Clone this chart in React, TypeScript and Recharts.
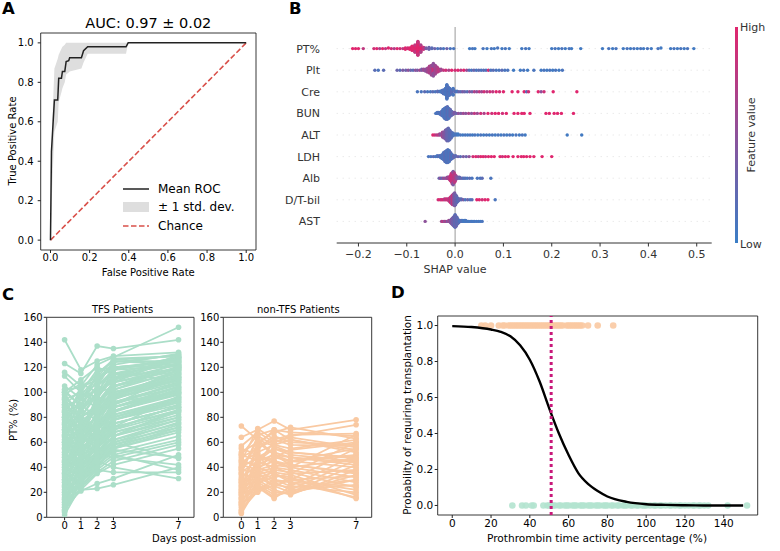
import React from 'react'
import {
  ComposedChart, Line, Area, Scatter, XAxis, YAxis, ReferenceLine, ReferenceArea
} from 'recharts'

const W = 780
const H = 551
const FONT = '"DejaVu Sans", sans-serif'

// ---------- A: ROC ----------
const rocFpr = [0, 0.005, 0.02, 0.037, 0.042, 0.056, 0.061, 0.073, 0.08, 0.093, 0.098, 0.158, 0.169, 0.19, 0.386, 0.397, 1]
const rocTpr = [0, 0.45, 0.71, 0.71, 0.82, 0.82, 0.855, 0.855, 0.905, 0.91, 0.925, 0.925, 0.96, 0.98, 0.98, 1, 1]
const bandFpr = [0, 0.01, 0.02, 0.037, 0.042, 0.056, 0.061, 0.073, 0.08, 0.093, 0.098, 0.158, 0.169, 0.19, 0.386, 0.397, 1]
const bandLow = [0, 0.3, 0.55, 0.6, 0.7, 0.75, 0.77, 0.8, 0.84, 0.85, 0.855, 0.87, 0.9, 0.945, 0.945, 1, 1]
const bandHigh = [0, 0.62, 0.87, 0.92, 0.94, 0.97, 0.98, 0.99, 1, 1, 1, 1, 1, 1, 1, 1, 1]
const chanceX = [0, 1]
const rateTicks = [0, 0.2, 0.4, 0.6, 0.8, 1]

// ---------- B: SHAP beeswarm ----------
// [shap value, feature value (0 low .. 1 high), count]
type Bee = [number, number, number?]
const featureNames = ['PT%', 'Plt', 'Cre', 'BUN', 'ALT', 'LDH', 'Alb', 'D/T-bil', 'AST']
const ptShap: Bee[] = [
  [-0.212, 1], [-0.206, 1], [-0.2, 1], [-0.19, 0.8],
  [-0.168, 0.9], [-0.162, 1], [-0.156, 0.7], [-0.15, 1], [-0.144, 0.8], [-0.138, 1], [-0.132, 0.9], [-0.126, 0.7],
  [-0.12, 1], [-0.114, 0.9], [-0.108, 0.8], [-0.103, 1, 2], [-0.098, 0.9, 2], [-0.094, 1, 3],
  [-0.089, 1, 5], [-0.083, 1, 10], [-0.083, 0.8, 3], [-0.077, 1, 18], [-0.077, 0.85, 6], [-0.071, 1, 10], [-0.071, 0.7, 3], [-0.065, 0.8, 4],
  [-0.06, 0.4, 2], [-0.054, 0.3, 2], [-0.048, 0.2, 2], [-0.042, 0.3], [-0.036, 0.1], [-0.03, 0.2], [-0.024, 0.1], [-0.017, 0.3], [-0.01, 0.1], [-0.003, 0.1],
  [0.03, 0.05], [0.036, 0.1], [0.041, 0.05], [0.058, 0.1], [0.066, 0.05], [0.075, 0.1], [0.081, 0.05], [0.088, 0.1], [0.097, 0.05], [0.104, 0.1], [0.112, 0.05],
  [0.138, 0.05], [0.146, 0.1], [0.153, 0.05], [0.2, 0.05], [0.207, 0.1], [0.214, 0.05], [0.221, 0.1], [0.228, 0.05], [0.236, 0.1], [0.241, 0.05], [0.26, 0.05],
  [0.305, 0.05], [0.318, 0.1], [0.326, 0.05], [0.333, 0.1], [0.348, 0.05], [0.356, 0.1], [0.363, 0.05], [0.37, 0.1], [0.377, 0.05], [0.384, 0.1], [0.39, 0.05],
  [0.398, 0.1], [0.406, 0.05], [0.42, 0.1], [0.426, 0.05], [0.446, 0.05], [0.453, 0.1], [0.46, 0.05], [0.467, 0.1], [0.474, 0.05], [0.481, 0.1], [0.494, 0.05],
]
const pltShap: Bee[] = [
  [-0.166, 0.2], [-0.159, 0.1], [-0.148, 0.2], [-0.12, 0.3], [-0.114, 0.2], [-0.108, 0.4], [-0.102, 0.3], [-0.097, 0.5], [-0.092, 0.3],
  [-0.087, 0.2], [-0.082, 0.5], [-0.078, 0.4], [-0.073, 0.6], [-0.069, 0.4, 2], [-0.065, 0.6, 2], [-0.061, 0.5, 3],
  [-0.057, 0.6, 5], [-0.053, 0.7, 8], [-0.049, 0.6, 11], [-0.045, 0.9, 6], [-0.045, 0.5, 8], [-0.041, 0.6, 10], [-0.037, 0.7, 6], [-0.033, 0.8, 3], [-0.029, 0.6, 2],
  [-0.024, 0.8], [-0.019, 0.9], [-0.013, 0.7], [-0.007, 1], [0, 0.9], [0.006, 1], [0.012, 0.8], [0.018, 1], [0.024, 0.6], [0.029, 0.2], [0.034, 0.1],
  [0.039, 0.3], [0.044, 0.1], [0.049, 0.2], [0.054, 0.1], [0.059, 0.2], [0.064, 0.1], [0.069, 0.9], [0.074, 0.1], [0.079, 0.2], [0.085, 0.1], [0.091, 0.1],
  [0.097, 0.2], [0.103, 0.1], [0.109, 0.1], [0.121, 0.05], [0.135, 0.05], [0.142, 0.1], [0.15, 0.05], [0.163, 0.1], [0.178, 0.05], [0.184, 0.1], [0.19, 0.05],
  [0.196, 0.1], [0.202, 0.05], [0.208, 0.1], [0.215, 0.05], [0.222, 0.1],
]
const creShap: Bee[] = [
  [-0.078, 0.1], [-0.07, 0.1], [-0.063, 0.2], [-0.057, 0.1], [-0.051, 0.1], [-0.046, 0.2], [-0.041, 0.1], [-0.036, 0.2, 2], [-0.031, 0.1, 2],
  [-0.027, 0.1, 4], [-0.024, 0.15, 7], [-0.02, 0.1, 10], [-0.017, 0.1, 13], [-0.014, 0.15, 14], [-0.011, 0.1, 11], [-0.007, 0.2, 7], [-0.004, 0.1, 4],
  [0, 0.2, 2], [0.004, 0.1, 2], [0.008, 0.3], [0.012, 0.2], [0.016, 0.4], [0.02, 0.3], [0.025, 0.2], [0.03, 0.5], [0.035, 0.3], [0.04, 0.7], [0.045, 0.5],
  [0.05, 0.8], [0.055, 0.6], [0.06, 0.9], [0.066, 0.7], [0.072, 0.9], [0.078, 0.8], [0.085, 1], [0.092, 0.9], [0.1, 1], [0.118, 1], [0.13, 1], [0.143, 1],
  [0.148, 0.2], [0.152, 0.9], [0.172, 1], [0.178, 0.5], [0.184, 0.9], [0.203, 1], [0.252, 1],
]
const bunShap: Bee[] = [
  [-0.04, 0.1], [-0.037, 0.1, 2], [-0.034, 0.15, 2], [-0.031, 0.1, 3], [-0.028, 0.2, 5], [-0.025, 0.1, 8], [-0.022, 0.15, 11], [-0.019, 0.1, 13],
  [-0.016, 0.2, 14], [-0.013, 0.1, 11], [-0.01, 0.25, 8], [-0.007, 0.2, 5], [-0.004, 0.3, 3], [-0.001, 0.4, 2],
  [0.003, 0.3], [0.007, 0.5], [0.012, 0.4], [0.017, 0.6], [0.022, 0.5], [0.028, 0.7], [0.034, 0.5], [0.04, 0.8], [0.046, 0.6], [0.053, 0.9], [0.06, 0.7],
  [0.068, 1], [0.076, 0.9], [0.083, 1], [0.09, 1], [0.098, 0.9], [0.106, 1], [0.122, 1], [0.13, 1], [0.138, 1], [0.143, 1], [0.155, 1], [0.188, 1],
  [0.195, 1], [0.205, 1], [0.212, 1], [0.22, 1], [0.245, 1],
]
const altShap: Bee[] = [
  [-0.046, 1], [-0.042, 0.9], [-0.038, 0.7], [-0.035, 0.8], [-0.032, 0.6, 2], [-0.029, 0.5, 2],
  [-0.026, 0.6, 4], [-0.023, 0.45, 7], [-0.02, 0.4, 10], [-0.017, 0.3, 13], [-0.014, 0.25, 14], [-0.011, 0.2, 11], [-0.008, 0.2, 7], [-0.005, 0.15, 4], [-0.002, 0.1, 2],
  [0.002, 0.1, 2], [0.006, 0.05, 2], [0.011, 0.1], [0.016, 0.05], [0.021, 0.1], [0.026, 0.05], [0.031, 0.1], [0.036, 0.05], [0.041, 0.1], [0.047, 0.05],
  [0.053, 0.1], [0.059, 0.05], [0.065, 0.1], [0.071, 0.05], [0.077, 0.1], [0.083, 0.05], [0.089, 0.1], [0.095, 0.05], [0.101, 0.1], [0.107, 0.05],
  [0.113, 0.1], [0.119, 0.05], [0.126, 0.1], [0.133, 0.05], [0.139, 0.1], [0.145, 0.05], [0.232, 0.05], [0.262, 0.05],
]
const ldhShap: Bee[] = [
  [-0.055, 0.1], [-0.05, 0.1], [-0.045, 0.2], [-0.041, 0.1], [-0.037, 0.1, 2], [-0.033, 0.2, 2],
  [-0.03, 0.1, 3], [-0.027, 0.15, 5], [-0.024, 0.1, 8], [-0.021, 0.2, 11], [-0.018, 0.1, 13], [-0.015, 0.15, 14], [-0.012, 0.1, 12], [-0.009, 0.2, 8],
  [-0.006, 0.1, 5], [-0.003, 0.25, 3],
  [0.001, 0.2, 2], [0.006, 0.3], [0.011, 0.2], [0.017, 0.4], [0.023, 0.3], [0.029, 0.5], [0.037, 0.9], [0.043, 1], [0.048, 0.8], [0.053, 1], [0.058, 1],
  [0.063, 0.9], [0.069, 1], [0.075, 1], [0.081, 1], [0.093, 1], [0.098, 0.9], [0.104, 1], [0.11, 1], [0.12, 1], [0.13, 1], [0.137, 1], [0.142, 1],
  [0.148, 1], [0.155, 1], [0.163, 1], [0.18, 1], [0.2, 1],
]
const albShap: Bee[] = [
  [-0.033, 0.3], [-0.03, 0.5], [-0.027, 0.2], [-0.024, 0.6], [-0.021, 0.4], [-0.018, 0.7], [-0.016, 0.5, 2], [-0.014, 0.6, 2],
  [-0.012, 0.7, 3], [-0.01, 0.8, 5], [-0.008, 0.9, 8], [-0.006, 0.8, 11], [-0.004, 0.9, 8], [-0.004, 0.4, 5], [-0.002, 0.7, 10], [0, 0.8, 7],
  [0.002, 0.6, 4], [0.004, 0.5, 2],
  [0.006, 0.4, 2], [0.009, 0.3, 2], [0.012, 0.2], [0.015, 0.3], [0.018, 0.1], [0.021, 0.2], [0.025, 0.1], [0.03, 0.2], [0.035, 0.1], [0.046, 0.1],
  [0.052, 0.1], [0.056, 0.2], [0.074, 0.1],
]
const bilShap: Bee[] = [
  [-0.035, 0.9], [-0.031, 1], [-0.028, 0.8], [-0.025, 1], [-0.022, 0.7, 2], [-0.019, 0.9, 2], [-0.016, 0.8, 2],
  [-0.013, 0.9, 3], [-0.011, 0.7, 5], [-0.009, 0.9, 7], [-0.007, 0.6, 9], [-0.005, 0.8, 11], [-0.003, 0.5, 12], [-0.001, 0.4, 14], [0.001, 0.3, 11],
  [0.003, 0.3, 8], [0.005, 0.2, 5], [0.007, 0.2, 3],
  [0.01, 0.3, 2], [0.013, 0.2, 2], [0.017, 0.4], [0.021, 0.1], [0.026, 0.3], [0.031, 0.1], [0.035, 0.2], [0.045, 1], [0.05, 1], [0.056, 0.9],
  [0.062, 1], [0.068, 1], [0.083, 0.1],
]
const astShap: Bee[] = [
  [-0.062, 0.5], [-0.028, 0.6], [-0.025, 0.8], [-0.022, 0.5], [-0.019, 0.7], [-0.016, 0.4], [-0.013, 0.6, 2],
  [-0.01, 0.5, 3], [-0.008, 0.4, 5], [-0.006, 0.45, 7], [-0.004, 0.3, 9], [-0.002, 0.35, 11], [0, 0.2, 14], [0.002, 0.3, 11], [0.004, 0.2, 8],
  [0.006, 0.25, 5], [0.008, 0.2, 3],
  [0.01, 0.1, 2], [0.013, 0.15, 2], [0.016, 0.1, 2], [0.019, 0.05, 2], [0.022, 0.1, 2], [0.025, 0.05], [0.028, 0.1], [0.031, 0.05], [0.034, 0.1],
  [0.037, 0.05], [0.04, 0.1], [0.044, 0.05], [0.048, 0.1], [0.052, 0.05], [0.056, 0.1],
]
const shapByFeature = [ptShap, pltShap, creShap, bunShap, altShap, ldhShap, albShap, bilShap, astShap]
const shapTicks = [-0.2, -0.1, 0, 0.1, 0.2, 0.3, 0.4, 0.5]

// ---------- C: PT% trajectories (days 0, 1, 2, 3, 7) ----------
const days = [0, 1, 2, 3, 7]
const tfsPT = [
  [142, 118, 125, 129, 132], [123, 115, 137, 135, 142], [116, 105, 122, 128, 152], [113, 100, 118, 120, 125], [105, 95, 112, 118, 128],
  [102, 104, 110, 124, 130], [100, 90, 105, 115, 122], [98, 107, 100, 112, 118], [96, 85, 98, 110, 126], [94, 100, 92, 105, 115],
  [92, 88, 95, 118, 121], [90, 80, 88, 100, 112], [88, 95, 102, 108, 128], [86, 75, 85, 95, 108], [84, 90, 96, 112, 119],
  [82, 70, 80, 92, 104], [80, 86, 100, 104, 124], [78, 68, 75, 88, 100], [76, 80, 90, 98, 116], [74, 62, 72, 85, 98],
  [72, 78, 84, 95, 110], [70, 58, 70, 82, 96], [68, 74, 88, 100, 114], [66, 55, 65, 78, 92], [64, 70, 80, 92, 106],
  [62, 52, 62, 75, 88], [60, 66, 76, 88, 102], [58, 48, 60, 72, 85], [56, 62, 74, 85, 99], [54, 45, 55, 68, 80],
  [52, 58, 70, 82, 95], [50, 42, 52, 65, 78], [48, 55, 66, 80, 94], [46, 40, 50, 62, 75], [44, 52, 62, 78, 90],
  [42, 38, 48, 60, 72], [40, 48, 60, 75, 88], [38, 35, 45, 58, 70], [36, 45, 58, 72, 86], [34, 33, 44, 55, 68],
  [32, 42, 55, 70, 84], [30, 30, 42, 52, 65], [28, 40, 52, 68, 82], [26, 28, 40, 50, 62], [24, 38, 50, 65, 80],
  [22, 25, 38, 48, 60], [20, 36, 48, 62, 78], [18, 24, 36, 45, 58], [16, 34, 46, 60, 76], [14, 22, 35, 42, 55],
  [12, 32, 45, 58, 74], [10, 21, 27, 31, 50], [8, 30, 44, 56, 72], [6, 22, 23, 26, 40], [5, 28, 42, 54, 48],
  [4, 35, 38, 36, 36], [60, 50, 45, 40, 31], [70, 65, 55, 50, 38], [55, 60, 50, 48, 42], [80, 72, 68, 60, 47],
  [45, 55, 85, 110, 130], [35, 60, 100, 120, 125], [25, 45, 80, 105, 120], [100, 110, 120, 115, 110], [90, 102, 115, 125, 122],
  [65, 85, 105, 118, 128], [75, 95, 108, 122, 131], [50, 70, 95, 112, 127], [40, 58, 78, 98, 112], [85, 98, 112, 127, 129],
  [15, 40, 62, 85, 102], [30, 50, 70, 90, 108],
  [95, 60, 85, 100, 110], [20, 60, 75, 95, 118], [85, 50, 70, 88, 105], [10, 45, 68, 90, 115], [100, 75, 90, 105, 120],
  [60, 90, 110, 120, 124], [30, 70, 95, 115, 126], [5, 50, 72, 92, 100], [70, 40, 58, 80, 96], [90, 60, 78, 96, 118],
  [45, 80, 98, 110, 122], [12, 55, 80, 100, 112], [65, 95, 88, 105, 119], [35, 25, 50, 70, 90], [80, 55, 65, 85, 103],
  [25, 65, 90, 108, 117], [55, 85, 78, 95, 111], [8, 40, 60, 80, 93], [98, 80, 100, 118, 127], [42, 68, 92, 102, 121],
  [18, 50, 55, 75, 88], [78, 100, 96, 114, 123], [62, 38, 62, 84, 101], [28, 58, 85, 98, 109], [88, 65, 82, 92, 107],
  [48, 30, 55, 72, 97], [102, 88, 115, 126, 129], [33, 75, 70, 88, 104], [58, 42, 68, 94, 113], [6, 30, 50, 65, 86],
  [74, 105, 112, 120, 121], [52, 85, 105, 125, 125], [22, 48, 70, 85, 99], [94, 72, 60, 78, 92], [38, 62, 75, 65, 85],
  [66, 48, 82, 102, 117], [14, 38, 58, 78, 94], [84, 62, 92, 108, 120], [44, 90, 80, 96, 114], [2, 25, 40, 55, 70],
]
const nonTfsPT = [
  [73, 62, 50, 45, 55], [64, 70, 77, 70, 78], [57, 68, 60, 65, 74], [55, 50, 45, 40, 66], [52, 60, 68, 72, 63],
  [50, 45, 40, 35, 60], [48, 55, 62, 58, 57], [46, 40, 35, 30, 55], [44, 52, 58, 62, 52], [42, 38, 30, 25, 50],
  [40, 48, 55, 52, 48], [38, 35, 28, 22, 46], [36, 45, 50, 48, 44], [34, 32, 25, 20, 42], [32, 42, 48, 45, 40],
  [30, 30, 22, 18, 38], [28, 40, 45, 42, 36], [26, 28, 20, 19, 34], [24, 38, 42, 40, 32], [22, 26, 18, 20, 30],
  [20, 36, 40, 38, 28], [18, 25, 16, 22, 26], [16, 34, 38, 36, 24], [14, 24, 15, 25, 20], [12, 32, 36, 34, 18],
  [10, 22, 30, 28, 16], [8, 30, 34, 32, 15], [6, 21, 28, 30, 22], [4, 28, 32, 35, 38], [3, 25, 40, 45, 50],
  [25, 55, 65, 60, 58], [35, 65, 58, 55, 62], [45, 71, 62, 66, 67], [15, 45, 55, 50, 45], [20, 60, 50, 42, 35],
  [30, 50, 35, 28, 25], [10, 42, 48, 54, 60], [5, 38, 52, 48, 42], [40, 58, 70, 62, 54], [28, 35, 25, 30, 33],
  [50, 66, 70, 68, 65], [18, 48, 44, 40, 47], [12, 20, 26, 24, 30], [38, 62, 57, 52, 47], [22, 44, 60, 64, 56],
]
const ptTicks = [0, 20, 40, 60, 80, 100, 120, 140, 160]

// ---------- D: logistic fit ----------
const curveX = [0, 10, 20, 25, 30, 35, 40, 45, 50, 55, 60, 65, 70, 75, 80, 90, 100, 110, 120, 130, 140, 150]
const curveP = [0.997, 0.992, 0.978, 0.965, 0.94, 0.89, 0.81, 0.69, 0.54, 0.4, 0.28, 0.18, 0.12, 0.08, 0.05, 0.02, 0.007, 0.003, 0.001, 0, 0, 0]
const transplantX = [15, 17, 20, 24, 26, 27, 29, 30, 31, 32, 33, 34, 35, 36, 37, 38, 39, 40, 41, 42, 43, 44, 45, 46, 47, 48, 49, 50, 51, 52,
  53, 54, 55, 56, 57, 59, 60, 61, 62, 63, 64, 65, 66, 67, 70, 75, 83]
const survivedX = [31, 36, 38, 41, 42, 47, 49, 50, 52, 53, 55, 56, 58, 59, 60, 62, 63, 64, 66, 67, 68, 70, 71, 72, 74, 75, 76, 78, 79, 80,
  82, 83, 85, 86, 88, 89, 90, 92, 93, 95, 96, 98, 99, 100, 102, 104, 105, 107, 108, 110, 112, 113, 115, 117, 118, 120, 122, 124,
  125, 127, 128, 130, 132, 142, 152]
const cutoff = 51
const probTicks = [0, 0.2, 0.4, 0.6, 0.8, 1]
const ptxTicks = [0, 20, 40, 60, 80, 100, 120, 140]

// ---------- colours ----------
const LOW = [58, 126, 198]
const HIGH = [224, 38, 110]
const mix = (t: number) => {
  const c = LOW.map((l, i) => Math.round(l + (HIGH[i] - l) * t))
  return `rgb(${c[0]},${c[1]},${c[2]})`
}
const GREEN = '#abdec8'
const PEACH = '#f9c9a2'

// ---------- derived tables ----------
const rocData = rocFpr.map((x, i) => ({ x, y: rocTpr[i] }))
const bandData = bandFpr.map((x, i) => ({ x, lo: bandLow[i], hi: bandHigh[i] }))
const chanceData = chanceX.map(x => ({ x, y: x }))

// shap-style beeswarm stacking (100 bins per feature, alternating up/down)
const beeData: { x: number; y: number; color: string }[] = []
shapByFeature.forEach((rows, fi) => {
  const pts: { v: number; fv: number }[] = []
  rows.forEach(([v, fv, n]) => { for (let k = 0; k < (n ?? 1); k++) pts.push({ v, fv }) })
  const vs = pts.map(p => p.v)
  const mn = Math.min(...vs), mx = Math.max(...vs)
  const quant = pts.map(p => Math.round(100 * (p.v - mn) / (mx - mn + 1e-8)))
  const order = pts.map((_, k) => k).sort((a, b) => quant[a] - quant[b] || a - b)
  const ys = new Array(pts.length).fill(0)
  let layer = 0
  let last = -1
  order.forEach(k => {
    if (quant[k] !== last) layer = 0
    ys[k] = Math.ceil(layer / 2) * ((layer % 2) * 2 - 1)
    layer++
    last = quant[k]
  })
  const scale = 0.9 * (0.4 / Math.max(...ys.map(y => y + 1)))
  pts.forEach((p, k) => beeData.push({ x: p.v, y: 8 - fi + ys[k] * scale, color: mix(p.fv) }))
})

const toTable = (rows: number[][]) => days.map((d, j) => {
  const o: Record<string, number> = { x: d }
  rows.forEach((r, i) => { o['p' + i] = r[j] })
  return o
})
const tfsTable = toTable(tfsPT)
const nonTfsTable = toTable(nonTfsPT)

const curveData = curveX.map((x, i) => ({ x, y: curveP[i] }))
const topDots = transplantX.map(x => ({ x, y: 1 }))
const bottomDots = survivedX.map(x => ({ x, y: 0 }))

// ---------- helpers ----------
const tick = (size: number, color = '#000') => ({ fontSize: size, fill: color, fontFamily: FONT })
const margin = (l: number, t: number, r: number, b: number, yw: number, xh: number) =>
  ({ left: l - yw, top: t, right: W - r, bottom: H - b - xh })
const fmt1 = (v: number) => v.toFixed(1)
const fmtShap = (v: number) => (v < 0 ? '\u2212' : '') + Math.abs(v).toFixed(1)

const Layer = ({ children }: { children: React.ReactNode }) => (
  <div style={{ position: 'absolute', left: 0, top: 0, width: W, height: H }}>{children}</div>
)

const Frame = ({ x, y }: { x: number[]; y: number[] }) => (
  <ReferenceArea x1={x[0]} x2={x[1]} y1={y[0]} y2={y[1]} fill="none" stroke="#222" strokeWidth={0.9} ifOverflow="visible" />
)

function PanelA() {
  const xd = [-0.05, 1.05]
  const yd = [-0.05, 1.05]
  return (
    <ComposedChart width={W} height={H} margin={margin(40.7, 33, 256, 250, 40, 20)}>
      <XAxis dataKey="x" type="number" domain={xd} ticks={rateTicks} tickFormatter={fmt1} allowDataOverflow
        axisLine={false} tickSize={3} tickMargin={1} height={20} tick={tick(10)} tickLine={{ stroke: '#222' }} />
      <YAxis type="number" domain={yd} ticks={rateTicks} tickFormatter={fmt1} allowDataOverflow
        axisLine={false} tickSize={3} tickMargin={4} width={40} tick={tick(10)} tickLine={{ stroke: '#222' }} />
      <Area data={bandData} dataKey={(d: any) => [d.lo, d.hi]} type="linear" fill="#dedede" fillOpacity={1} stroke="none" isAnimationActive={false} />
      <Line data={chanceData} dataKey="y" type="linear" stroke="#d9504a" strokeWidth={1.6} strokeDasharray="5.5 2.5" dot={false} isAnimationActive={false} />
      <Line data={rocData} dataKey="y" type="linear" stroke="#222" strokeWidth={1.5} dot={false} isAnimationActive={false} />
      <Frame x={xd} y={yd} />
    </ComposedChart>
  )
}

function PanelB() {
  return (
    <ComposedChart width={W} height={H} margin={margin(336.7, 27, 711.7, 243, 60, 20)}>
      <XAxis dataKey="x" type="number" domain={[-0.245, 0.531]} ticks={shapTicks} tickFormatter={fmtShap} allowDataOverflow
        axisLine={{ stroke: '#333' }} tickLine={{ stroke: '#333' }} tickSize={3.5} tickMargin={4} height={20} tick={tick(11, '#333')} />
      <YAxis dataKey="y" type="number" domain={[-1, 9]} ticks={[0, 1, 2, 3, 4, 5, 6, 7, 8]} tickFormatter={(v: number) => featureNames[8 - v]}
        allowDataOverflow axisLine={false} tickLine={false} tickSize={0} tickMargin={16.7} width={60} tick={tick(11, '#333')} />
      {featureNames.map((_, i) => (
        <ReferenceLine key={i} y={i} stroke="#cccccc" strokeWidth={0.6} strokeDasharray="1 5" />
      ))}
      <ReferenceLine x={0} stroke="#999999" strokeWidth={1} />
      <Scatter data={beeData} isAnimationActive={false}
        shape={(p: any) => <circle cx={p.cx} cy={p.cy} r={1.7} fill={p.payload.color} />} />
    </ComposedChart>
  )
}

function PanelC({ left, right, table, color }: { left: number; right: number; table: Record<string, number>[]; color: string }) {
  const xd = [-1.1, 7.95]
  const yd = [0, 160]
  const n = Object.keys(table[0]).length - 1
  return (
    <ComposedChart width={W} height={H} data={table} margin={margin(left, 317.3, right, 517.3, 30, 20)}>
      <XAxis dataKey="x" type="number" domain={xd} ticks={days} allowDataOverflow
        axisLine={false} tickSize={3} tickMargin={2} height={20} tick={tick(10)} tickLine={{ stroke: '#222' }} />
      <YAxis type="number" domain={yd} ticks={ptTicks} allowDataOverflow
        axisLine={false} tickSize={3} tickMargin={1} width={30} tick={tick(10)} tickLine={{ stroke: '#222' }} />
      {Array.from({ length: n }, (_, i) => (
        <Line key={i} dataKey={'p' + i} type="linear" stroke={color} strokeWidth={1.8}
          dot={{ r: 2.8, fill: color, stroke: color, strokeWidth: 0 }} activeDot={false} isAnimationActive={false} />
      ))}
      <Frame x={xd} y={yd} />
    </ComposedChart>
  )
}

const dXd = [-7.5, 157.5]
const dYd = [-0.053, 1.053]
const dMargin = margin(437.7, 316, 757.7, 515, 30, 20)

function PanelD() {
  return (
    <ComposedChart width={W} height={H} margin={dMargin}>
      <XAxis dataKey="x" type="number" domain={dXd} ticks={ptxTicks} allowDataOverflow
        axisLine={false} tickSize={3} tickMargin={2} height={20} tick={tick(10.5)} tickLine={{ stroke: '#222' }} />
      <YAxis dataKey="y" type="number" domain={dYd} ticks={probTicks} tickFormatter={fmt1} allowDataOverflow
        axisLine={false} tickSize={3} tickMargin={1.5} width={30} tick={tick(10.5)} tickLine={{ stroke: '#222' }} />
      <Scatter data={topDots} isAnimationActive={false}
        shape={(p: any) => <circle cx={p.cx} cy={p.cy} r={3.3} fill={PEACH} fillOpacity={0.9} />} />
      <Scatter data={bottomDots} isAnimationActive={false}
        shape={(p: any) => <circle cx={p.cx} cy={p.cy} r={3.3} fill="#b3e3cf" fillOpacity={0.9} />} />
      <Frame x={dXd} y={dYd} />
    </ComposedChart>
  )
}

// curve and cut-off drawn in a second layer so they sit above the dots
function PanelDCurve() {
  return (
    <ComposedChart width={W} height={H} margin={dMargin}>
      <XAxis dataKey="x" type="number" domain={dXd} ticks={ptxTicks} allowDataOverflow
        axisLine={false} tickLine={false} tick={false} height={20} />
      <YAxis dataKey="y" type="number" domain={dYd} ticks={probTicks} allowDataOverflow
        axisLine={false} tickLine={false} tick={false} width={30} />
      <Line data={curveData} dataKey="y" type="monotone" stroke="#000" strokeWidth={2.4} dot={false} isAnimationActive={false} />
      <ReferenceLine x={cutoff} stroke="#c8187a" strokeWidth={3} strokeDasharray="3 3" />
    </ComposedChart>
  )
}

function Overlay() {
  const t = { fontFamily: FONT, fill: '#000' }
  return (
    <svg width={W} height={H} style={{ position: 'absolute', left: 0, top: 0 }}>
      <defs>
        <linearGradient id="cbar" x1="0" y1="0" x2="0" y2="1">
          <stop offset="0" stopColor={mix(1)} />
          <stop offset="0.5" stopColor={mix(0.5)} />
          <stop offset="1" stopColor={mix(0)} />
        </linearGradient>
      </defs>
      {/* panel letters */}
      <text x={2} y={14} fontSize={16.5} fontWeight={700} {...t}>A</text>
      <text x={289} y={14} fontSize={16.5} fontWeight={700} {...t}>B</text>
      <text x={2} y={300} fontSize={16.5} fontWeight={700} {...t}>C</text>
      <text x={391} y={298} fontSize={16.5} fontWeight={700} {...t}>D</text>

      {/* A */}
      <text x={148.3} y={27.7} fontSize={14.5} textAnchor="middle" {...t}>AUC: 0.97 ± 0.02</text>
      <text x={0} y={0} fontSize={10} textAnchor="middle" dominantBaseline="central" transform="translate(12,141) rotate(-90)" {...t}>True Positive Rate</text>
      <text x={148.3} y={272} fontSize={10} textAnchor="middle" dominantBaseline="central" {...t}>False Positive Rate</text>
      <line x1={123} x2={149} y1={189} y2={189} stroke="#222" strokeWidth={1.5} />
      <rect x={123} y={202} width={26} height={10} fill="#dedede" />
      <line x1={123} x2={149} y1={226} y2={226} stroke="#d9504a" strokeWidth={1.6} strokeDasharray="5.5 2.5" />
      <text x={158} y={189} fontSize={12} dominantBaseline="central" {...t}>Mean ROC</text>
      <text x={158} y={207} fontSize={12} dominantBaseline="central" {...t}>± 1 std. dev.</text>
      <text x={158} y={226} fontSize={12} dominantBaseline="central" {...t}>Chance</text>

      {/* B */}
      <text x={455} y={269} fontSize={11} textAnchor="middle" dominantBaseline="central" {...t} fill="#333">SHAP value</text>
      <rect x={735} y={27} width={3} height={216} fill="url(#cbar)" />
      <text x={740} y={27} fontSize={11} dominantBaseline="central" {...t} fill="#333">High</text>
      <text x={740} y={244} fontSize={11} dominantBaseline="central" {...t} fill="#333">Low</text>
      <text x={0} y={0} fontSize={11} textAnchor="middle" dominantBaseline="central" transform="translate(751,135) rotate(-90)" {...t} fill="#333">Feature value</text>

      {/* C */}
      <text x={122.5} y={309} fontSize={10} textAnchor="middle" dominantBaseline="central" {...t}>TFS Patients</text>
      <text x={298.3} y={309} fontSize={10} textAnchor="middle" dominantBaseline="central" {...t}>non-TFS Patients</text>
      <text x={0} y={0} fontSize={10} textAnchor="middle" dominantBaseline="central" transform="translate(13,420) rotate(-90)" {...t}>PT% (%)</text>
      <text x={204} y={538} fontSize={10} textAnchor="middle" dominantBaseline="central" {...t}>Days post-admission</text>

      {/* D */}
      <text x={0} y={0} fontSize={10.3} textAnchor="middle" dominantBaseline="central" transform="translate(406.7,415) rotate(-90)" {...t}>Probability of requiring transplantation</text>
      <text x={597} y={538} fontSize={10.6} textAnchor="middle" dominantBaseline="central" {...t}>Prothrombin time activity percentage (%)</text>
    </svg>
  )
}

export default function App() {
  return (
    <div style={{ position: 'absolute', left: 0, top: 0, width: W, height: H, background: '#fff', overflow: 'hidden' }}>
      <Layer><PanelA /></Layer>
      <Layer><PanelB /></Layer>
      <Layer><PanelC left={46.7} right={194} table={tfsTable} color={GREEN} /></Layer>
      <Layer><PanelC left={223.3} right={371.7} table={nonTfsTable} color={PEACH} /></Layer>
      <Layer><PanelD /></Layer>
      <Layer><PanelDCurve /></Layer>
      <Overlay />
    </div>
  )
}
